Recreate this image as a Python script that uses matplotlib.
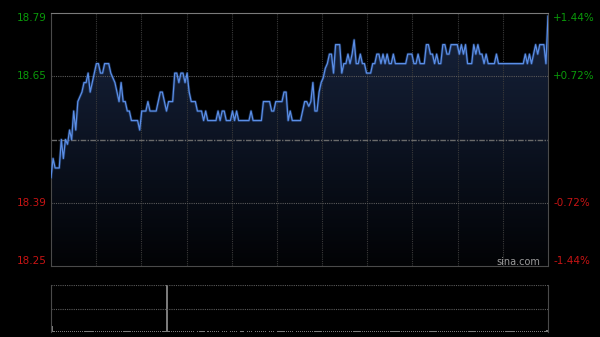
import numpy as np
import matplotlib.pyplot as plt
from matplotlib import transforms
from matplotlib.colors import LinearSegmentedColormap

prev_close = 18.52
pct_levels = [1.44, 0.72, -0.72, -1.44]
left_labels = ['18.79', '18.65', '18.39', '18.25']
right_labels = ['+1.44%', '+0.72%', '-0.72%', '-1.44%']

# one price per minute
price = [
    18.44, 18.48, 18.46, 18.46, 18.46, 18.52, 18.48, 18.52, 18.51, 18.54,
    18.52, 18.58, 18.54, 18.60, 18.61, 18.62, 18.64, 18.64, 18.66, 18.62,
    18.64, 18.66, 18.68, 18.68, 18.66, 18.66, 18.68, 18.68, 18.68, 18.66,
    18.65, 18.64, 18.62, 18.60, 18.64, 18.60, 18.60, 18.58, 18.58, 18.56,
    18.56, 18.56, 18.56, 18.54, 18.58, 18.58, 18.58, 18.60, 18.58, 18.58,
    18.58, 18.58, 18.60, 18.62, 18.62, 18.60, 18.58, 18.60, 18.60, 18.60,
    18.66, 18.66, 18.64, 18.66, 18.66, 18.64, 18.66, 18.62, 18.60, 18.60,
    18.60, 18.58, 18.58, 18.58, 18.56, 18.58, 18.56, 18.56, 18.56, 18.56,
    18.56, 18.58, 18.56, 18.58, 18.58, 18.56, 18.56, 18.56, 18.58, 18.56,
    18.58, 18.56, 18.56, 18.56, 18.56, 18.56, 18.56, 18.58, 18.56, 18.56,
    18.56, 18.56, 18.56, 18.60, 18.60, 18.60, 18.60, 18.58, 18.58, 18.60,
    18.60, 18.60, 18.60, 18.62, 18.62, 18.56, 18.58, 18.56, 18.56, 18.56,
    18.56, 18.56, 18.58, 18.60, 18.60, 18.59, 18.60, 18.64, 18.58, 18.58,
    18.62, 18.64, 18.65, 18.67, 18.68, 18.70, 18.70, 18.66, 18.72, 18.72,
    18.72, 18.66, 18.68, 18.68, 18.70, 18.68, 18.70, 18.73, 18.68, 18.68,
    18.70, 18.68, 18.68, 18.66, 18.66, 18.66, 18.68, 18.68, 18.70, 18.70,
    18.68, 18.70, 18.68, 18.70, 18.68, 18.68, 18.70, 18.68, 18.68, 18.68,
    18.68, 18.68, 18.68, 18.70, 18.70, 18.70, 18.68, 18.68, 18.70, 18.68,
    18.68, 18.68, 18.72, 18.72, 18.70, 18.70, 18.68, 18.70, 18.68, 18.68,
    18.72, 18.72, 18.70, 18.70, 18.72, 18.72, 18.72, 18.72, 18.70, 18.72,
    18.70, 18.72, 18.68, 18.68, 18.68, 18.72, 18.70, 18.72, 18.70, 18.70,
    18.68, 18.70, 18.68, 18.68, 18.68, 18.68, 18.70, 18.68, 18.68, 18.68,
    18.68, 18.68, 18.68, 18.68, 18.68, 18.68, 18.68, 18.68, 18.68, 18.68,
    18.70, 18.68, 18.70, 18.68, 18.70, 18.72, 18.70, 18.72, 18.72, 18.72,
    18.68, 18.78,
]

volume = [
    12, 3, 2, 2, 3, 2, 3, 2, 2, 3, 2, 2, 3, 2, 2, 2, 3, 2, 2, 2,
    2, 3, 2, 2, 2, 2, 3, 2, 2, 2, 2, 2, 3, 2, 2, 2, 2, 2, 2, 2,
    2, 2, 2, 2, 3, 2, 2, 2, 2, 2, 2, 2, 2, 2, 2, 2, 100, 2, 2, 2,
    3, 2, 2, 2, 2, 2, 2, 2, 2, 2, 1, 2, 2, 2, 2, 1, 2, 2, 2, 2,
    2, 2, 1, 2, 2, 2, 1, 2, 2, 2, 2, 1, 2, 2, 1, 2, 2, 2, 1, 2,
    2, 2, 2, 2, 2, 1, 2, 2, 2, 1, 2, 2, 2, 2, 2, 3, 2, 2, 1, 2,
    2, 2, 2, 2, 2, 2, 2, 3, 2, 2, 2, 2, 3, 2, 2, 3, 2, 2, 3, 2,
    2, 3, 2, 2, 2, 2, 2, 3, 2, 2, 2, 2, 2, 2, 2, 2, 2, 2, 2, 2,
    2, 2, 2, 2, 2, 2, 2, 2, 2, 2, 2, 2, 2, 2, 2, 2, 2, 2, 2, 2,
    2, 2, 3, 2, 2, 2, 2, 2, 2, 2, 2, 2, 2, 2, 2, 2, 2, 2, 2, 2,
    2, 2, 2, 2, 2, 2, 2, 2, 2, 2, 2, 2, 2, 2, 2, 2, 2, 2, 2, 2,
    2, 2, 2, 2, 2, 2, 2, 2, 2, 2, 2, 2, 2, 2, 2, 3, 2, 2, 2, 2,
    3, 4,
]

W, H = 600, 337
fig = plt.figure(figsize=(W / 100, H / 100), dpi=100, facecolor='black')
ax = fig.add_axes([51 / W, 71 / H, 497 / W, 253 / H])
ax.set_facecolor('black')

x = np.arange(len(price))
lo = prev_close * (1 - 0.0144)
hi = prev_close * (1 + 0.0144)

# gradient fill under the price line
poly = ax.fill_between(x, price, lo, color='none', lw=0)
grad = np.linspace(0, 1, 256).reshape(-1, 1)
cmap = LinearSegmentedColormap.from_list('fill', ['#020305', '#0c1322', '#18243d'])
img = ax.imshow(grad, extent=[0, len(price) - 1, lo, max(price)], origin='lower',
                aspect='auto', cmap=cmap, zorder=1)
img.set_clip_path(poly.get_paths()[0], transform=ax.transData)

ax.plot(x, price, color='#3a6fc8', lw=2.0, alpha=0.35, zorder=3)
ax.plot(x, price, color='#5b8ee6', lw=0.9, zorder=4)

ax.set_xlim(0, len(price) - 1)
ax.set_ylim(lo, hi)
ax.set_xticks([])
ax.set_yticks([])

for k in range(1, 11):
    ax.axvline(k * (len(price) - 1) / 11, color='#3a3a3a', lw=0.8, ls=(0, (1, 1)), zorder=2)
for p in [0.72, -0.72]:
    ax.axhline(prev_close * (1 + p / 100), color='#5a5a5a', lw=0.8, ls=(0, (1, 1)), zorder=2)
ax.axhline(prev_close, color='#6a6a6a', lw=1.0, ls=(0, (4, 1, 1, 1)), zorder=2)

for s in ax.spines.values():
    s.set_color('#4a4a4a')
ax.spines['top'].set_color('#7a7a7a')

green, red = '#0a9a0a', '#c81414'
tl = transforms.blended_transform_factory(fig.transFigure, ax.transData)
for p, lt, rt in zip(pct_levels, left_labels, right_labels):
    yv = prev_close * (1 + p / 100)
    va = 'top' if p == 1.44 else ('bottom' if p == -1.44 else 'center')
    c = green if p > 0 else red
    fig.text(47 / W, yv, lt, transform=tl, ha='right', va=va, color=c, fontsize=7.5)
    fig.text(553 / W, yv, rt, transform=tl, ha='left', va=va, color=c, fontsize=7.5)

ax.text(0.94, 0.016, 'sina.com', transform=ax.transAxes, ha='center', va='center',
        color='#9a9a9a', fontsize=7)

# volume panel
vax = fig.add_axes([51 / W, 5 / H, 497 / W, 47 / H])
vax.set_facecolor('black')
vax.bar(x, volume, width=0.6, color='#7a7a7a')
vax.set_xlim(-0.5, len(price) - 0.5)
vax.set_ylim(0, max(volume))
vax.set_xticks([])
vax.set_yticks([])
for s in ['top', 'bottom']:
    vax.spines[s].set_visible(False)
for s in ['left', 'right']:
    vax.spines[s].set_color('#4a4a4a')
vax.axhline(max(volume), color='#5a5a5a', lw=0.8, ls=(0, (1, 1)))
vax.axhline(max(volume) / 2, color='#5a5a5a', lw=0.8, ls=(0, (1, 1)))

fig.savefig('out.png', dpi=100, facecolor='black')
